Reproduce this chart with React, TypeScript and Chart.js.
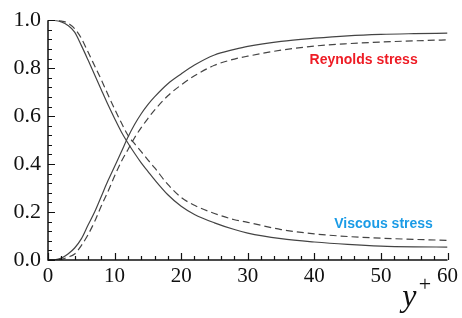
import { useEffect, useRef } from "react";
import { Chart, registerables } from "chart.js";

Chart.register(...registerables);

const yPlus = [0, 1, 2, 3, 4, 5, 6, 7, 8, 9, 10, 11, 12, 13, 14, 15, 16, 18, 20, 22, 25, 28, 30, 35, 40, 45, 50, 55, 60];
const viscousSolid = [1.0, 0.999, 0.993, 0.978, 0.95, 0.895, 0.835, 0.773, 0.71, 0.648, 0.59, 0.535, 0.488, 0.445, 0.405, 0.37, 0.335, 0.272, 0.224, 0.19, 0.155, 0.127, 0.112, 0.089, 0.075, 0.065, 0.058, 0.055, 0.054];
const viscousDashed = [1.0, 1.0, 0.997, 0.988, 0.965, 0.925, 0.868, 0.81, 0.752, 0.69, 0.63, 0.573, 0.52, 0.485, 0.452, 0.418, 0.385, 0.315, 0.261, 0.228, 0.194, 0.168, 0.157, 0.127, 0.109, 0.098, 0.091, 0.086, 0.082];
const reynoldsSolid = [0, 0.001, 0.008, 0.025, 0.05, 0.088, 0.145, 0.2, 0.265, 0.33, 0.39, 0.45, 0.512, 0.565, 0.61, 0.648, 0.68, 0.735, 0.776, 0.813, 0.855, 0.878, 0.891, 0.912, 0.925, 0.935, 0.941, 0.944, 0.946];
const reynoldsDashed = [0, 0, 0.003, 0.012, 0.025, 0.06, 0.105, 0.16, 0.225, 0.285, 0.35, 0.41, 0.46, 0.51, 0.552, 0.59, 0.625, 0.685, 0.73, 0.768, 0.812, 0.838, 0.85, 0.875, 0.892, 0.902, 0.909, 0.914, 0.918];

const xMajorTicks = [0, 10, 20, 30, 40, 50, 60];
const yMajorTicks = [0, 0.2, 0.4, 0.6, 0.8, 1.0];
const xMinorPerMajor = 5;
const yMinorPerMajor = 5;

const reynoldsLabel = { text: "Reynolds stress", x: 47.4, y: 0.835, color: "#ee1c25" };
const viscousLabel = { text: "Viscous stress", x: 50.4, y: 0.15, color: "#1a9be6" };

const SERIF = '"Liberation Serif"';
const SANS = '"Liberation Sans"';

const toPoints = (ys: number[]) => yPlus.map((x, i) => ({ x, y: ys[i] }));

const decorPlugin = {
  id: "decor",
  afterDatasetsDraw(chart: any) {
    const { ctx, chartArea, scales } = chart;
    const xs = scales.x;
    const ys = scales.y;
    ctx.save();
    ctx.strokeStyle = "#111";
    ctx.lineWidth = 1.5;
    ctx.beginPath();
    ctx.moveTo(chartArea.left, chartArea.top);
    ctx.lineTo(chartArea.left, chartArea.bottom);
    ctx.lineTo(chartArea.right, chartArea.bottom);
    ctx.stroke();

    ctx.lineWidth = 1.2;
    ctx.beginPath();
    for (let m = 0; m < xMajorTicks.length; m++) {
      const v = xMajorTicks[m];
      const px = Math.round(xs.getPixelForValue(v)) + 0.5;
      ctx.moveTo(px, chartArea.bottom);
      ctx.lineTo(px, chartArea.bottom - 7);
      if (m < xMajorTicks.length - 1) {
        const step = (xMajorTicks[m + 1] - v) / xMinorPerMajor;
        for (let k = 1; k < xMinorPerMajor; k++) {
          const p = Math.round(xs.getPixelForValue(v + k * step)) + 0.5;
          ctx.moveTo(p, chartArea.bottom);
          ctx.lineTo(p, chartArea.bottom - 4);
        }
      }
    }
    for (let m = 0; m < yMajorTicks.length; m++) {
      const v = yMajorTicks[m];
      const py = Math.round(ys.getPixelForValue(v)) + 0.5;
      ctx.moveTo(chartArea.left, py);
      ctx.lineTo(chartArea.left + 7, py);
      if (m < yMajorTicks.length - 1) {
        const step = (yMajorTicks[m + 1] - v) / yMinorPerMajor;
        for (let k = 1; k < yMinorPerMajor; k++) {
          const p = Math.round(ys.getPixelForValue(v + k * step)) + 0.5;
          ctx.moveTo(chartArea.left, p);
          ctx.lineTo(chartArea.left + 4, p);
        }
      }
    }
    ctx.stroke();

    ctx.font = `bold 14px ${SANS}`;
    ctx.textAlign = "center";
    ctx.textBaseline = "middle";
    for (const l of [reynoldsLabel, viscousLabel]) {
      ctx.fillStyle = l.color;
      ctx.fillText(l.text, xs.getPixelForValue(l.x), ys.getPixelForValue(l.y));
    }

    ctx.fillStyle = "#111";
    ctx.textAlign = "left";
    ctx.textBaseline = "alphabetic";
    ctx.font = `italic 32px ${SERIF}`;
    ctx.fillText("y", xs.getPixelForValue(53.2), chartArea.bottom + 46);
    ctx.textAlign = "center";
    ctx.textBaseline = "middle";
    ctx.font = `22px ${SERIF}`;
    ctx.fillText("+", xs.getPixelForValue(56.6), chartArea.bottom + 25);
    ctx.restore();
  },
};

export default function App() {
  const ref = useRef<HTMLCanvasElement | null>(null);
  useEffect(() => {
    if (!ref.current) return;
    const line = (data: number[], dashed: boolean) => ({
      data: toPoints(data),
      borderColor: "#444",
      borderWidth: 1.2,
      borderDash: dashed ? [7, 4] : [],
      pointRadius: 0,
      fill: false,
      cubicInterpolationMode: "monotone" as const,
    });
    const chart = new Chart(ref.current, {
      type: "line",
      data: {
        datasets: [
          line(viscousSolid, false),
          line(viscousDashed, true),
          line(reynoldsSolid, false),
          line(reynoldsDashed, true),
        ],
      },
      options: {
        animation: false,
        responsive: false,
        devicePixelRatio: 1,
        layout: { padding: { top: 15, right: 11, left: 0, bottom: 0 } },
        plugins: { legend: { display: false }, tooltip: { enabled: false } },
        scales: {
          x: {
            type: "linear",
            min: 0,
            max: 60,
            afterBuildTicks: (s: any) => {
              s.ticks = xMajorTicks.map((v) => ({ value: v }));
            },
            afterFit: (s: any) => {
              s.height = 58;
            },
            grid: { display: false, drawTicks: false },
            border: { display: false },
            ticks: {
              autoSkip: false,
              maxRotation: 0,
              padding: 4,
              color: "#111",
              font: { family: SERIF, size: 21 },
              callback: (v: any) => String(v),
            },
          },
          y: {
            type: "linear",
            min: 0,
            max: 1,
            afterBuildTicks: (s: any) => {
              s.ticks = yMajorTicks.map((v) => ({ value: v }));
            },
            afterFit: (s: any) => {
              s.width = 48;
            },
            grid: { display: false, drawTicks: false },
            border: { display: false },
            ticks: {
              autoSkip: false,
              padding: 7,
              color: "#111",
              font: { family: SERIF, size: 22 },
              callback: (v: any) => Number(v).toFixed(1),
            },
          },
        },
      },
      plugins: [decorPlugin],
    });
    return () => chart.destroy();
  }, []);
  return (
    <div style={{ position: "absolute", left: 0, top: 0, width: 462, height: 318, background: "#fff" }}>
      <canvas ref={ref} width={462} height={318} />
    </div>
  );
}
